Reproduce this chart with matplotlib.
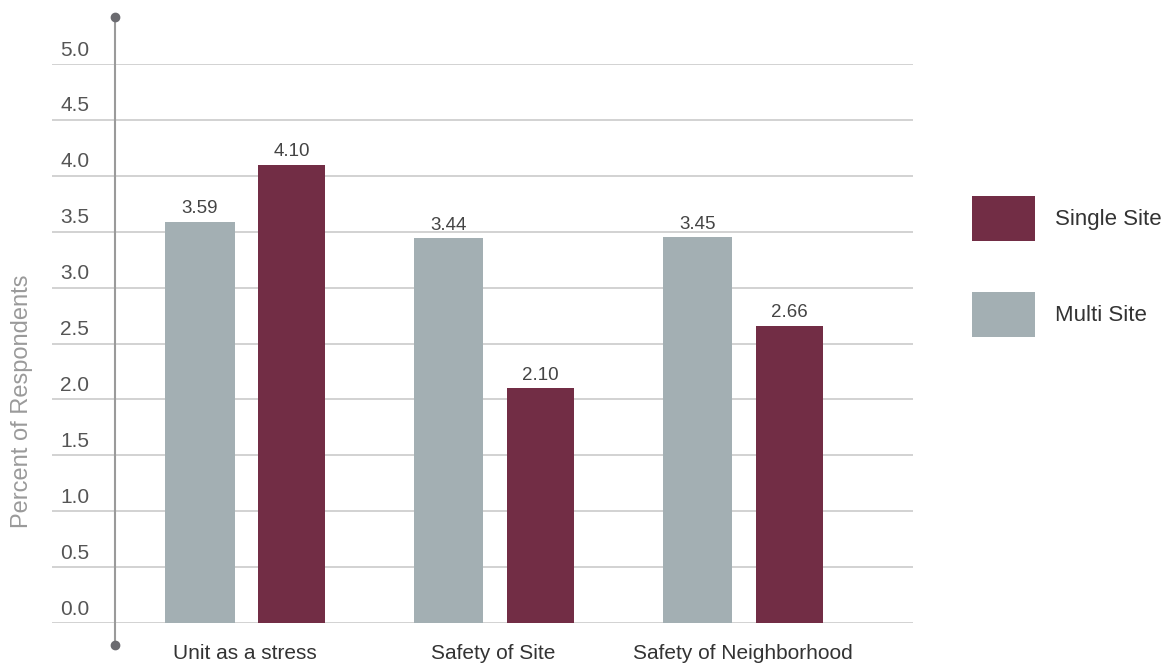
import numpy as np
import matplotlib.pyplot as plt
from matplotlib.patches import Patch

categories = ["Unit as a stress", "Safety of Site", "Safety of Neighborhood"]
multi_site = [3.59, 3.44, 3.45]
single_site = [4.10, 2.10, 2.66]
yticks = [0.0, 0.5, 1.0, 1.5, 2.0, 2.5, 3.0, 3.5, 4.0, 4.5, 5.0]

grey = "#a3afb3"
maroon = "#722d45"

plt.rcParams["font.family"] = ["Liberation Sans", "DejaVu Sans"]

fig = plt.figure(figsize=(11.64, 6.68), dpi=100)
W, H = 1164, 668
ax = fig.add_axes([52 / W, 45 / H, (913 - 52) / W, (623 - 64) / H])

x = np.arange(len(categories))
w = 0.28
ax.bar(x - 0.18, multi_site, w, color=grey, zorder=3)
ax.bar(x + 0.19, single_site, 0.27, color=maroon, zorder=3)

for xi, v in zip(x - 0.18, multi_site):
    ax.text(xi, v + 0.04, f"{v:.2f}", ha="center", va="bottom", fontsize=13.5, color="#444444")
for xi, v in zip(x + 0.19, single_site):
    ax.text(xi, v + 0.04, f"{v:.2f}", ha="center", va="bottom", fontsize=13.5, color="#444444")

ax.set_xlim(-0.773, 2.685)
ax.set_ylim(0, 5)

# grid lines with their labels sitting just above
for t in yticks:
    ax.axhline(t, color="#cfcfcf", lw=1.3, zorder=1)
    ax.text(-0.74, t + 0.04, f"{t:.1f}", ha="left", va="bottom", fontsize=15, color="#555555")

# vertical axis line with round end caps
ax.plot([-0.52, -0.52], [-0.197, 5.42], color="#9a9a9a", lw=1.5, clip_on=False, zorder=4)
ax.plot([-0.52, -0.52], [-0.197, 5.42], "o", color="#6b6b70", ms=6, clip_on=False, zorder=5)

for s in ax.spines.values():
    s.set_visible(False)
ax.set_yticks([])
ax.set_xticks(x)
ax.set_xticklabels(categories, fontsize=15, color="#333333")
ax.tick_params(axis="x", length=0, pad=15)

fig.text(22 / W, 1 - 401 / H, "Percent of Respondents", rotation=90, ha="center", va="center",
         fontsize=17, color="#9a9a9a")

handles = [Patch(facecolor=maroon, label="Single Site"), Patch(facecolor=grey, label="Multi Site")]
fig.legend(handles=handles, loc="upper left", bbox_to_anchor=(972 / W, 1 - 196 / H),
           frameon=False, borderpad=0, borderaxespad=0, fontsize=16, handlelength=2.84,
           handleheight=2.74, labelspacing=2.3, handletextpad=0.9, labelcolor="#333333")

fig.savefig("out.png", dpi=100)
